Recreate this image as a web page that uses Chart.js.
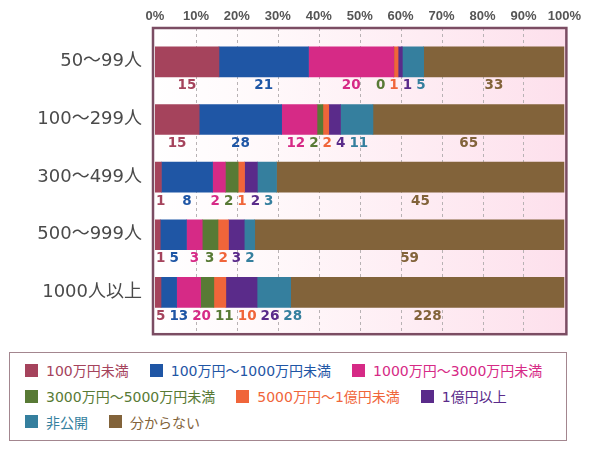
<!DOCTYPE html>
<html lang="ja">
<head>
  <meta charset="UTF-8">
  <title>従業員規模別 売上高</title>
  <script src="https://cdn.jsdelivr.net/npm/chart.js"></script>
  <style>
    body { margin: 0; background: #fff; }
    #wrap { position: relative; width: 590px; height: 345px; }
    #legend {
      position: absolute; left: 9px; top: 352px; width: 558px; height: 89px;
      box-sizing: border-box; border: 1.5px solid #a3868f; padding: 4.5px 0 0 15px;
      font-family: 'DejaVu Sans', 'Noto Sans CJK JP', sans-serif; font-size: 14px;
    }
    .lrow { display: flex; align-items: center; height: 25.7px; }
    .litem { display: flex; align-items: center; margin-right: 21px; white-space: nowrap; }
    .lbox { width: 13px; height: 13px; margin-right: 8px; }
  </style>
</head>
<body>
  <div id="wrap"><canvas id="chart"></canvas></div>
  <div id="legend"></div>

  <script>
    const categories = ['50〜99人', '100〜299人', '300〜499人', '500〜999人', '1000人以上'];
    const seriesNames = ['100万円未満', '100万円〜1000万円未満', '1000万円〜3000万円未満', '3000万円〜5000万円未満',
                         '5000万円〜1億円未満', '1億円以上', '非公開', '分からない'];
    const seriesColors = ['#a5435c', '#1f56a5', '#d62a86', '#587a35', '#f0653a', '#5a2b8a', '#357f9e', '#82633a'];

    // 件数（カテゴリ順）
    const under100man = [15, 15, 1, 1, 5];
    const man100to1000 = [21, 28, 8, 5, 13];
    const man1000to3000 = [20, 12, 2, 3, 20];
    const man3000to5000 = [0, 2, 2, 3, 11];
    const man5000to1oku = [1, 2, 1, 2, 10];
    const over1oku = [1, 4, 2, 3, 26];
    const hikoukai = [5, 11, 3, 2, 28];
    const wakaranai = [33, 65, 45, 59, 228];
    const seriesCounts = [under100man, man100to1000, man1000to3000, man3000to5000,
                          man5000to1oku, over1oku, hikoukai, wakaranai];

    const xTicks = [0, 10, 20, 30, 40, 50, 60, 70, 80, 90, 100];
    const legendRows = [3, 3, 2];

    const totals = categories.map((c, i) => seriesCounts.reduce((s, arr) => s + arr[i], 0));

    const datasets = seriesNames.map((name, j) => ({
      label: name,
      data: seriesCounts[j].map((v, i) => v / totals[i] * 100),
      counts: seriesCounts[j],
      backgroundColor: seriesColors[j],
      borderWidth: 0,
      barThickness: 30
    }));

    // プロット枠（背景・グリッド・枠線）
    const BOX = { left: 3, top: 5, right: 1, bottom: 13 };
    const plotBox = {
      id: 'plotBox',
      beforeDatasetsDraw(chart) {
        const { ctx, chartArea: a, scales: { x } } = chart;
        const l = a.left - BOX.left, t = a.top - BOX.top, r = a.right + BOX.right, b = a.bottom + BOX.bottom;
        ctx.save();
        const g = ctx.createLinearGradient(l, 0, r, 0);
        g.addColorStop(0, '#ffffff');
        g.addColorStop(0.3, '#fff8fa');
        g.addColorStop(1, '#fde0ec');
        ctx.fillStyle = g;
        ctx.fillRect(l, t, r - l, b - t);
        ctx.strokeStyle = '#b8b2b4';
        ctx.lineWidth = 1;
        ctx.setLineDash([3, 3]);
        xTicks.slice(1, -1).forEach(v => {
          const px = Math.round(x.getPixelForValue(v)) + 0.5;
          ctx.beginPath();
          ctx.moveTo(px, t);
          ctx.lineTo(px, b);
          ctx.stroke();
        });
        ctx.restore();
      },
      afterDatasetsDraw(chart) {
        const { ctx, chartArea: a } = chart;
        ctx.save();
        ctx.strokeStyle = '#7b4d63';
        ctx.lineWidth = 2.5;
        ctx.strokeRect(a.left - BOX.left + 1, a.top - BOX.top, a.right - a.left + BOX.left + BOX.right, a.bottom - a.top + BOX.top + BOX.bottom);
        ctx.restore();
      }
    };

    // 棒の下に件数ラベル（重なりはグループ化して並べる）
    function placeLabels(items, minX, gap) {
      let groups = items.map(it => [it]);
      const layout = grp => {
        const off = [0];
        for (let k = 1; k < grp.length; k++) off.push(off[k - 1] + grp[k - 1].w / 2 + gap + grp[k].w / 2);
        const meanD = grp.reduce((s, it) => s + it.x, 0) / grp.length;
        const meanO = off.reduce((s, o) => s + o, 0) / off.length;
        let start = Math.max(meanD - meanO, minX + grp[0].w / 2);
        grp.forEach((it, k) => it.px = start + off[k]);
      };
      groups.forEach(layout);
      let merged = true;
      while (merged) {
        merged = false;
        for (let i = 0; i < groups.length - 1; i++) {
          const a = groups[i][groups[i].length - 1], b = groups[i + 1][0];
          if (a.px + a.w / 2 + gap > b.px - b.w / 2) {
            groups.splice(i, 2, groups[i].concat(groups[i + 1]));
            layout(groups[i]);
            merged = true;
            break;
          }
        }
      }
    }

    const countLabels = {
      id: 'countLabels',
      afterDatasetsDraw(chart) {
        const { ctx, chartArea } = chart;
        ctx.save();
        ctx.font = 'bold 13.5px "DejaVu Sans"';
        ctx.textAlign = 'center';
        ctx.textBaseline = 'middle';
        categories.forEach((c, i) => {
          const items = chart.data.datasets.map((ds, j) => {
            const el = chart.getDatasetMeta(j).data[i];
            const text = String(ds.counts[i]);
            return { x: (el.x + el.base) / 2, y: el.y + 24, w: ctx.measureText(text).width, text, color: ds.backgroundColor };
          });
          placeLabels(items, chartArea.left + 1, 4);
          items.forEach(it => {
            ctx.fillStyle = it.color;
            ctx.fillText(it.text, it.px, it.y);
          });
        });
        ctx.restore();
      }
    };

    new Chart(document.getElementById('chart'), {
      type: 'bar',
      data: { labels: categories, datasets },
      options: {
        indexAxis: 'y',
        responsive: true,
        maintainAspectRatio: false,
        animation: false,
        layout: { padding: { top: 0, right: 25, bottom: 20.5, left: 0 } },
        plugins: { legend: { display: false }, tooltip: { enabled: false } },
        scales: {
          x: {
            type: 'linear', position: 'top', stacked: true, min: 0, max: 100,
            afterBuildTicks(s) { s.ticks = xTicks.map(v => ({ value: v })); },
            ticks: {
              callback: v => v + '%', color: '#555', padding: 9,
              font: { family: 'Liberation Sans', weight: 'bold', size: 13 }
            },
            grid: { display: false, drawTicks: false },
            border: { display: false },
            afterFit(s) { s.height = 33; }
          },
          y: {
            stacked: true,
            ticks: {
              color: '#4a4a4a', padding: 13,
              font: { family: "'DejaVu Sans', 'Noto Sans CJK JP'", size: 18 }
            },
            grid: { display: false, drawTicks: false },
            border: { display: false },
            afterFit(s) { s.width = 155; }
          }
        }
      },
      plugins: [plotBox, countLabels]
    });

    // 凡例
    const legend = document.getElementById('legend');
    let idx = 0;
    legendRows.forEach(n => {
      const row = document.createElement('div');
      row.className = 'lrow';
      for (let k = 0; k < n; k++, idx++) {
        row.innerHTML += `<div class="litem"><span class="lbox" style="background:${seriesColors[idx]}"></span>` +
                         `<span style="color:${seriesColors[idx]}">${seriesNames[idx]}</span></div>`;
      }
      legend.appendChild(row);
    });
  </script>
</body>
</html>
